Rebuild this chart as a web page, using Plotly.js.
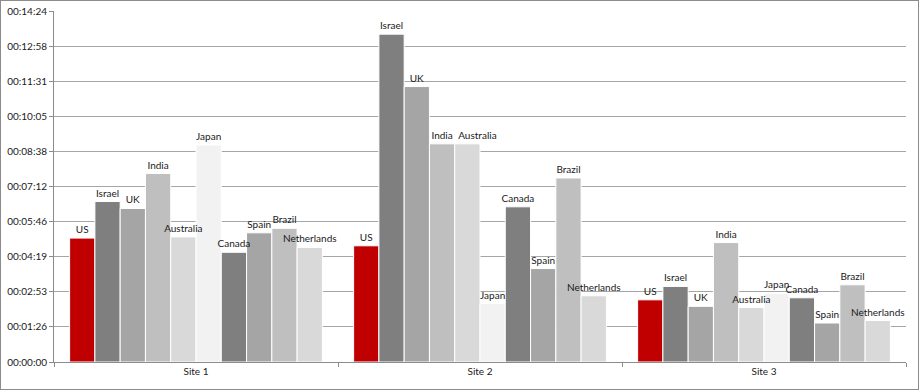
<!DOCTYPE html>
<html>
<head>
<meta charset="utf-8">
<script src="https://cdn.plot.ly/plotly-3.0.1.min.js"></script>
<style>
  html, body { margin: 0; padding: 0; background: #fff; }
  #wrap { position: relative; width: 919px; height: 390px; }
  #chart { position: absolute; left: 0; top: 0; width: 919px; height: 390px; }
  #frame { position: absolute; left: 0; top: 0; width: 919px; height: 390px; box-sizing: border-box; border: 1px solid #8c8c8c; pointer-events: none; }
</style>
</head>
<body>
<div id="wrap"><div id="chart"></div><div id="frame"></div></div>
<script>
// Categories (x axis)
const sites = ["Site 1", "Site 2", "Site 3"];

// Series names
const countries = ["US", "Israel", "UK", "India", "Australia", "Japan", "Canada", "Spain", "Brazil", "Netherlands"];

// Values in seconds, per country, for Site 1, Site 2, Site 3
const us          = [305, 286, 153];
const israel      = [395, 807, 186];
const uk          = [378, 678, 137];
const india       = [464, 537, 294];
const australia   = [308, 537, 134];
const japan       = [534, 144, 169];
const canada      = [270, 382, 158];
const spain       = [318, 230, 96];
const brazil      = [329, 453, 190];
const netherlands = [282, 163, 102];

const seriesValues = [us, israel, uk, india, australia, japan, canada, spain, brazil, netherlands];

// Colours per series
const colors = ["#C00000", "#7F7F7F", "#A5A5A5", "#BFBFBF", "#D9D9D9", "#F2F2F2", "#7F7F7F", "#A5A5A5", "#BFBFBF", "#D9D9D9"];

// Y axis ticks (seconds) and labels
const yTickVals = [0, 86.4, 172.8, 259.2, 345.6, 432, 518.4, 604.8, 691.2, 777.6, 864];
const yTickText = ["00:00:00", "00:01:26", "00:02:53", "00:04:19", "00:05:46", "00:07:12", "00:08:38", "00:10:05", "00:11:31", "00:12:58", "00:14:24"];

const FONT = "Lato, 'Open Sans', 'DejaVu Sans', sans-serif";
const NBSP = "\u00A0";

// In the reference the "Australia" label of Site 2 is nudged right so it clears "India"
function labelFor(name, j) {
  if (name === "Australia" && j === 1) return NBSP.repeat(8) + name;
  return name;
}

// Filled bars
const barTraces = countries.map((name, i) => ({
  type: "bar",
  name: name,
  x: sites,
  y: seriesValues[i],
  offsetgroup: "g" + i,
  marker: { color: colors[i], line: { color: "#ffffff", width: 1 } },
  hoverinfo: "skip"
}));

// Same bars, transparent, carrying the labels so that labels sit above every bar
const labelTraces = countries.map((name, i) => ({
  type: "bar",
  name: name + " label",
  x: sites,
  y: seriesValues[i],
  offsetgroup: "g" + i,
  text: sites.map((s, j) => labelFor(name, j)),
  texttemplate: "%{text}",
  textposition: "outside",
  constraintext: "none",
  cliponaxis: false,
  textfont: { family: FONT, size: 10, color: "#1a1a1a" },
  marker: { color: "rgba(0,0,0,0)", line: { width: 0 } },
  hoverinfo: "skip"
}));

const layout = {
  width: 919,
  height: 390,
  margin: { l: 54, r: 13, t: 11, b: 28 },
  paper_bgcolor: "#ffffff",
  plot_bgcolor: "#ffffff",
  showlegend: false,
  barmode: "group",
  bargap: 0.11,
  bargroupgap: 0,
  font: { family: FONT, size: 10, color: "#1a1a1a" },
  xaxis: {
    type: "category",
    showgrid: false,
    showline: true,
    linecolor: "#8c8c8c",
    linewidth: 1,
    ticks: "outside",
    tickson: "boundaries",
    ticklen: 4,
    tickcolor: "#8c8c8c",
    tickfont: { family: FONT, size: 10, color: "#1a1a1a" },
    zeroline: false
  },
  yaxis: {
    range: [0, 864],
    tickmode: "array",
    tickvals: yTickVals,
    ticktext: yTickText,
    showgrid: true,
    gridcolor: "#a6a6a6",
    gridwidth: 1,
    showline: true,
    linecolor: "#8c8c8c",
    linewidth: 1,
    ticks: "outside",
    ticklen: 4,
    tickcolor: "#8c8c8c",
    tickfont: { family: FONT, size: 10, color: "#1a1a1a" },
    zeroline: false
  }
};

Plotly.newPlot("chart", barTraces.concat(labelTraces), layout, { displayModeBar: false, staticPlot: true });
</script>
</body>
</html>
